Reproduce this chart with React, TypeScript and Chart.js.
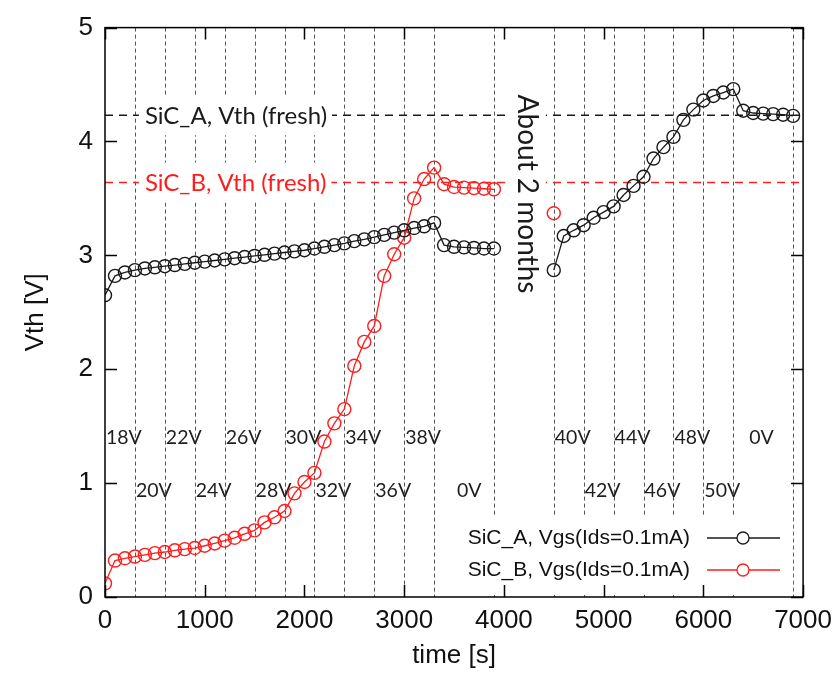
import React, { useEffect, useRef } from 'react';
import { Chart, registerables } from 'chart.js';

Chart.register(...registerables);

// ---- data ----
const timesLeft = [0, 100, 200, 300, 400, 500, 600, 700, 800, 900, 1000, 1100, 1200, 1300, 1400, 1500, 1600, 1700, 1800, 1900, 2000, 2100, 2200, 2300, 2400, 2500, 2600, 2700, 2800, 2900, 3000, 3100, 3200, 3300, 3400, 3500, 3600, 3700, 3800, 3900];
const sicALeft = [2.65, 2.82, 2.85, 2.87, 2.885, 2.895, 2.905, 2.915, 2.925, 2.935, 2.945, 2.955, 2.965, 2.975, 2.985, 2.995, 3.005, 3.015, 3.025, 3.035, 3.045, 3.06, 3.075, 3.09, 3.105, 3.125, 3.14, 3.16, 3.18, 3.2, 3.22, 3.24, 3.255, 3.285, 3.09, 3.075, 3.07, 3.065, 3.06, 3.06];
const sicBLeft = [0.12, 0.32, 0.34, 0.355, 0.37, 0.385, 0.395, 0.41, 0.42, 0.43, 0.45, 0.47, 0.495, 0.52, 0.555, 0.585, 0.655, 0.7, 0.755, 0.91, 1.01, 1.09, 1.365, 1.525, 1.65, 2.03, 2.24, 2.38, 2.82, 3.01, 3.155, 3.5, 3.67, 3.77, 3.625, 3.6, 3.595, 3.59, 3.585, 3.58];
const timesRight = [4500, 4600, 4700, 4800, 4900, 5000, 5100, 5200, 5300, 5400, 5500, 5600, 5700, 5800, 5900, 6000, 6100, 6200, 6300, 6400, 6500, 6600, 6700, 6800, 6900];
const sicARight = [2.87, 3.17, 3.22, 3.265, 3.33, 3.38, 3.43, 3.53, 3.61, 3.69, 3.85, 3.95, 4.04, 4.19, 4.28, 4.36, 4.4, 4.43, 4.46, 4.27, 4.25, 4.245, 4.24, 4.235, 4.225];
const sicBRightTimes = [4500];
const sicBRight = [3.37];

const freshA = 4.23;
const freshB = 3.64;

const dividerTimes = [300, 600, 900, 1200, 1500, 1800, 2100, 2400, 2700, 3000, 3300, 3900, 4500, 4800, 5100, 5400, 5700, 6000, 6300, 6900];

const voltRow1Labels = ['18V', '22V', '26V', '30V', '34V', '38V', '40V', '44V', '48V', '0V'];
const voltRow1Times = [0, 600, 1200, 1800, 2400, 3000, 4500, 5100, 5700, 6450];
const voltRow1Value = 1.4;
const voltRow2Labels = ['20V', '24V', '28V', '32V', '36V', '0V', '42V', '46V', '50V'];
const voltRow2Times = [300, 900, 1500, 2100, 2700, 3520, 4800, 5400, 6000];
const voltRow2Value = 0.93;

const xTicks = [0, 1000, 2000, 3000, 4000, 5000, 6000, 7000];
const yTicks = [0, 1, 2, 3, 4, 5];

const seriesNames = ['SiC_A, Vgs(Ids=0.1mA)', 'SiC_B, Vgs(Ids=0.1mA)'];
const freshLabels = ['SiC_A, Vth (fresh)', 'SiC_B, Vth (fresh)'];
const gapLabel = 'About 2 months';

const BLACK = '#1a1a1a';
const RED = '#ff1c1c';

export default function App() {
  const ref = useRef<HTMLCanvasElement>(null);

  useEffect(() => {
    const canvas = ref.current;
    if (!canvas) return;

    const dataA: any[] = [
      ...timesLeft.map((t, i) => ({ x: t, y: sicALeft[i] })),
      { x: 4200, y: null },
      ...timesRight.map((t, i) => ({ x: t, y: sicARight[i] })),
    ];
    const dataB: any[] = [
      ...timesLeft.map((t, i) => ({ x: t, y: sicBLeft[i] })),
      { x: 4200, y: null },
      ...sicBRightTimes.map((t, i) => ({ x: t, y: sicBRight[i] })),
    ];

    const overlay = {
      id: 'overlay',
      beforeDatasetsDraw(chart: any) {
        const { ctx, chartArea: a, scales } = chart;
        const xs = scales.x;
        const ys = scales.y;
        ctx.save();
        // vertical dashed dividers
        ctx.setLineDash([4, 3]);
        ctx.strokeStyle = '#555';
        ctx.lineWidth = 1;
        dividerTimes.forEach((t) => {
          const px = Math.round(xs.getPixelForValue(t)) + 0.5;
          ctx.beginPath();
          ctx.moveTo(px, a.top);
          ctx.lineTo(px, a.bottom);
          ctx.stroke();
        });
        // fresh reference lines
        ctx.setLineDash([8, 6]);
        ctx.lineWidth = 1.5;
        [[freshA, BLACK], [freshB, RED]].forEach(([v, c]) => {
          const py = ys.getPixelForValue(v as number);
          ctx.strokeStyle = c as string;
          ctx.beginPath();
          ctx.moveTo(a.left, py);
          ctx.lineTo(a.right, py);
          ctx.stroke();
        });
        ctx.setLineDash([]);
        // fresh labels with white boxes
        ctx.font = '24px Lato';
        ctx.textBaseline = 'middle';
        ctx.textAlign = 'left';
        [[freshA, BLACK, freshLabels[0]], [freshB, RED, freshLabels[1]]].forEach(([v, c, txt]) => {
          const py = ys.getPixelForValue(v as number);
          const lx = xs.getPixelForValue(400);
          const w = ctx.measureText(txt as string).width;
          ctx.fillStyle = '#fff';
          ctx.fillRect(lx - 6, py - 20, w + 11, 40);
          ctx.fillStyle = c as string;
          ctx.fillText(txt as string, lx, py + 1);
        });
        // "About 2 months" rotated
        const gx = xs.getPixelForValue(4230);
        ctx.fillStyle = '#fff';
        ctx.fillRect(gx - 19, a.top + 62, 38, 222);
        ctx.save();
        ctx.translate(gx, a.top + 67);
        ctx.rotate(Math.PI / 2);
        ctx.font = '28px Lato';
        ctx.fillStyle = BLACK;
        ctx.textAlign = 'left';
        ctx.textBaseline = 'middle';
        ctx.fillText(gapLabel, 0, 0);
        ctx.restore();
        // voltage labels
        ctx.font = '19.5px Lato';
        ctx.fillStyle = '#1e1e1e';
        ctx.textAlign = 'left';
        ctx.textBaseline = 'middle';
        voltRow1Labels.forEach((l, i) => {
          ctx.fillText(l, xs.getPixelForValue(voltRow1Times[i]) + 1, ys.getPixelForValue(voltRow1Value));
        });
        voltRow2Labels.forEach((l, i) => {
          ctx.fillText(l, xs.getPixelForValue(voltRow2Times[i]) + 1, ys.getPixelForValue(voltRow2Value));
        });
        // legend box (opaque)
        ctx.fillStyle = '#fff';
        ctx.fillRect(460, a.bottom - 80, a.right - 470, 78);
        ctx.restore();
      },
      afterDatasetsDraw(chart: any) {
        const { ctx, chartArea: a } = chart;
        ctx.save();
        ctx.font = '21px "Liberation Sans"';
        ctx.textAlign = 'right';
        ctx.textBaseline = 'middle';
        const rows = [
          { name: seriesNames[0], color: BLACK, y: a.bottom - 59 },
          { name: seriesNames[1], color: RED, y: a.bottom - 27 },
        ];
        rows.forEach((r) => {
          ctx.fillStyle = '#111';
          ctx.fillText(r.name, 690, r.y);
          ctx.strokeStyle = r.color;
          ctx.lineWidth = 1.3;
          ctx.beginPath();
          ctx.moveTo(707, r.y);
          ctx.lineTo(780, r.y);
          ctx.stroke();
          ctx.fillStyle = '#fff';
          ctx.beginPath();
          ctx.arc(743, r.y, 6, 0, Math.PI * 2);
          ctx.fill();
          ctx.stroke();
        });
        ctx.restore();
      },
      afterDraw(chart: any) {
        const { ctx, chartArea: a, scales } = chart;
        const xs = scales.x;
        const ys = scales.y;
        ctx.save();
        ctx.strokeStyle = '#000';
        ctx.lineWidth = 1.5;
        ctx.strokeRect(a.left, a.top, a.right - a.left, a.bottom - a.top);
        ctx.beginPath();
        xTicks.forEach((t) => {
          const px = Math.round(xs.getPixelForValue(t)) + 0.5;
          ctx.moveTo(px, a.bottom);
          ctx.lineTo(px, a.bottom - 12);
          ctx.moveTo(px, a.top);
          ctx.lineTo(px, a.top + 12);
        });
        yTicks.forEach((v) => {
          const py = Math.round(ys.getPixelForValue(v)) + 0.5;
          ctx.moveTo(a.left, py);
          ctx.lineTo(a.left + 12, py);
          ctx.moveTo(a.right, py);
          ctx.lineTo(a.right - 12, py);
        });
        ctx.stroke();
        ctx.restore();
      },
    };

    const tickFont = { family: '"Liberation Sans", Arial, sans-serif', size: 26 };

    const chart = new Chart(canvas, {
      type: 'line',
      data: {
        datasets: [
          {
            label: seriesNames[0],
            data: dataA,
            borderColor: BLACK,
            borderWidth: 1.3,
            pointRadius: 6.5,
            pointBorderWidth: 1.4,
            pointBackgroundColor: 'rgba(0,0,0,0)',
            pointBorderColor: BLACK,
            backgroundColor: 'rgba(0,0,0,0)',
            spanGaps: false,
            tension: 0,
          },
          {
            label: seriesNames[1],
            data: dataB,
            borderColor: RED,
            borderWidth: 1.3,
            pointRadius: 6.5,
            pointBorderWidth: 1.4,
            pointBackgroundColor: 'rgba(0,0,0,0)',
            pointBorderColor: RED,
            backgroundColor: 'rgba(0,0,0,0)',
            spanGaps: false,
            tension: 0,
          },
        ],
      },
      options: {
        responsive: false,
        animation: false,
        devicePixelRatio: 1,
        layout: { padding: { left: 0, top: 25, right: 35, bottom: 0 } },
        plugins: {
          legend: { display: false },
          tooltip: { enabled: false },
        },
        scales: {
          x: {
            type: 'linear',
            min: 0,
            max: 7000,
            afterBuildTicks: (s: any) => {
              s.ticks = xTicks.map((v) => ({ value: v }));
            },
            ticks: { font: tickFont, color: '#111', padding: 8, maxRotation: 0, autoSkip: false, callback: (v: any) => String(v) },
            grid: { display: false, drawTicks: false },
            border: { display: false },
            title: { display: true, text: 'time [s]', font: tickFont, color: '#111', padding: { top: 0, bottom: 4 } },
            afterFit: (s: any) => {
              s.height = 78;
            },
          },
          y: {
            type: 'linear',
            min: 0,
            max: 5,
            afterBuildTicks: (s: any) => {
              s.ticks = yTicks.map((v) => ({ value: v }));
            },
            ticks: { font: tickFont, color: '#111', padding: 12, callback: (v: any) => String(v) },
            grid: { display: false, drawTicks: false },
            border: { display: false },
            title: { display: true, text: 'Vth [V]', font: tickFont, color: '#111', padding: { top: 20, bottom: 0 } },
            afterFit: (s: any) => {
              s.width = 105;
            },
          },
        },
      },
      plugins: [overlay],
    } as any);

    return () => chart.destroy();
  }, []);

  return (
    <div style={{ position: 'fixed', left: 0, top: 0, width: 840, height: 675, background: '#fff' }}>
      <canvas ref={ref} width={840} height={675} style={{ width: 840, height: 675, display: 'block' }} />
    </div>
  );
}
